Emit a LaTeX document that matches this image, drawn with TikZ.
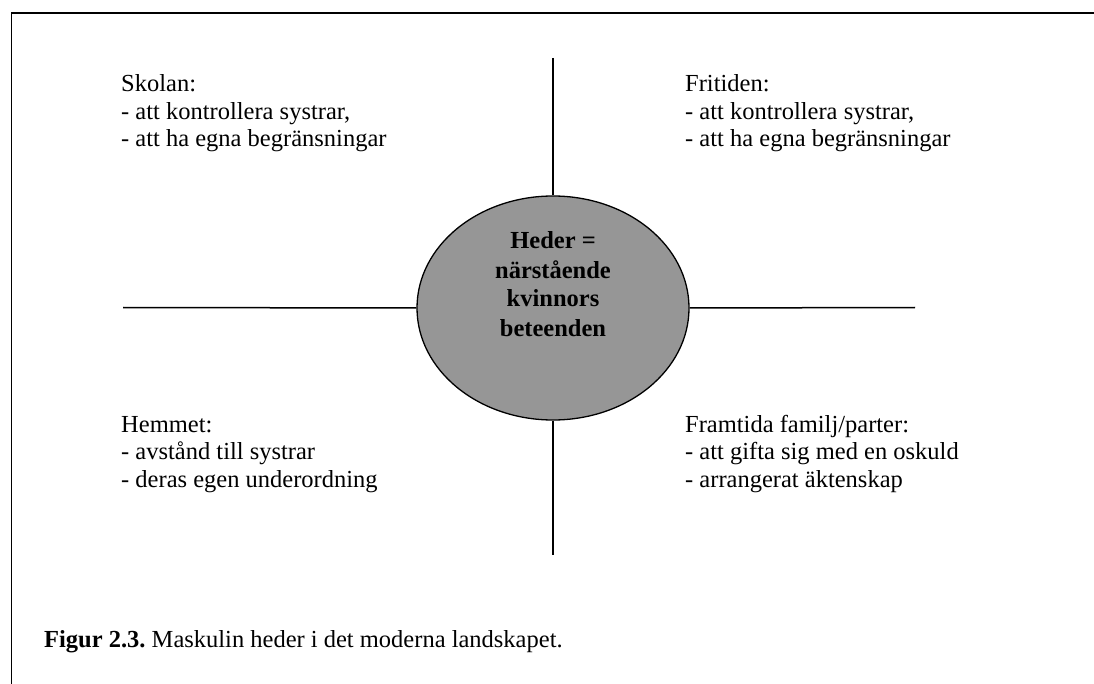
\documentclass[tikz,border=0pt]{standalone}
\usepackage{fontspec}
\setmainfont{Liberation Serif}
\usetikzlibrary{shapes.geometric}
\definecolor{corefill}{RGB}{150,150,150}
\tikzset{
  rule/.style={line width=1.5pt, black},
  lbl/.style={inner sep=0pt, align=left, anchor=base west,
    font=\frenchspacing\fontsize{24.5}{27.5}\selectfont},
  core/.style={ellipse, draw=black, line width=1.3pt, fill=corefill, minimum width=272pt, minimum height=224pt, inner sep=0pt},
}
\begin{document}
\begin{tikzpicture}[x=1pt,y=-1pt]
\useasboundingbox (0,0) rectangle (1094,684);
\draw[rule] (11.5,684) -- (11.5,13) -- (1094,13);
\node[core] (c) at (553,308) {};
\coordinate (t) at (553,58);
\coordinate (b) at (553,555);
\coordinate (l) at (123,307.5);
\coordinate (r) at (915,307.5);
\draw[rule] (t) -- (c.north);
\draw[rule] (c.south) -- (b);
\draw[rule] (l) -- (c.west);
\draw[rule] (c.east) -- (r);
\node[inner sep=0pt, align=center, anchor=base, font=\bfseries\fontsize{24.5}{29}\selectfont] (ct) at (553,336) {Heder =\\närstående\\kvinnors\\beteenden};
\node[lbl] (skolan) at (121,147) {Skolan:\\- att kontrollera systrar,\\- att ha egna begränsningar};
\node[lbl] (fritiden) at (685,147) {Fritiden:\\- att kontrollera systrar,\\- att ha egna begränsningar};
\node[lbl] (hemmet) at (121,487) {Hemmet:\\- avstånd till systrar\\- deras egen underordning};
\node[lbl] (framtida) at (685,487) {Framtida familj/parter:\\- att gifta sig med en oskuld\\- arrangerat äktenskap};
\node[lbl] (caption) at (44,647) {\textbf{Figur 2.3.} Maskulin heder i det moderna landskapet.};
\end{tikzpicture}
\end{document}
